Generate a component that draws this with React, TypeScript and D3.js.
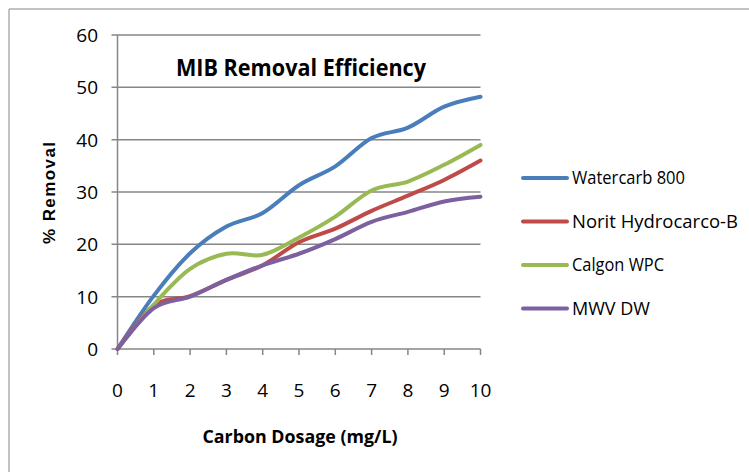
import * as d3 from "d3";
import { useEffect, useRef } from "react";

const dosage = [0, 1, 2, 3, 4, 5, 6, 7, 8, 9, 10];
const watercarb = [0, 10.2, 18.3, 23.4, 26, 31.3, 34.9, 40.3, 42.3, 46.3, 48.2];
const norit = [0, 8.3, 10.1, 13.2, 16, 20.4, 23, 26.4, 29.3, 32.3, 36];
const calgon = [0, 8.5, 15.3, 18.2, 18, 21.3, 25.3, 30.3, 32, 35.2, 39];
const mwv = [0, 7.8, 10, 13.2, 16, 18.2, 21, 24.3, 26.2, 28.2, 29.1];
const yTicks = [0, 10, 20, 30, 40, 50, 60];

const series = [
  { name: "Watercarb 800", values: watercarb, color: "#4a7ebb" },
  { name: "Norit Hydrocarco-B", values: norit, color: "#be4b48" },
  { name: "Calgon WPC", values: calgon, color: "#98b954" },
  { name: "MWV DW", values: mwv, color: "#7d60a0" },
];

const FONT = "'Open Sans', 'Liberation Sans', sans-serif";

export default function App() {
  const ref = useRef<SVGSVGElement>(null);

  useEffect(() => {
    if (!ref.current) return;
    const svg = d3.select(ref.current);
    svg.selectAll("*").remove();

    const width = 749;
    const height = 472;
    const left = 117.5;
    const right = 480.5;
    const top = 35;
    const bottom = 349;
    const grey = "#868686";

    svg.append("rect").attr("width", width).attr("height", height).attr("fill", "#fff");

    // outer frame
    svg
      .append("path")
      .attr("d", `M9,${height} V9 H${width}`)
      .attr("fill", "none")
      .attr("stroke", grey)
      .attr("stroke-width", 1);

    const x = d3.scaleLinear().domain([0, 10]).range([left, right]);
    const y = d3.scaleLinear().domain([0, 60]).range([bottom, top]);

    // gridlines
    svg
      .append("g")
      .selectAll("line")
      .data(yTicks)
      .join("line")
      .attr("x1", left - 6)
      .attr("x2", right)
      .attr("y1", (d) => y(d))
      .attr("y2", (d) => y(d))
      .attr("stroke", grey)
      .attr("stroke-width", 1.5);

    // y axis line
    svg
      .append("line")
      .attr("x1", left)
      .attr("x2", left)
      .attr("y1", top)
      .attr("y2", bottom)
      .attr("stroke", grey)
      .attr("stroke-width", 1.5);

    // x ticks
    svg
      .append("g")
      .selectAll("line")
      .data(dosage)
      .join("line")
      .attr("x1", (d) => x(d))
      .attr("x2", (d) => x(d))
      .attr("y1", bottom)
      .attr("y2", bottom + 6)
      .attr("stroke", grey)
      .attr("stroke-width", 1.5);

    // y tick labels
    svg
      .append("g")
      .selectAll("text")
      .data(yTicks)
      .join("text")
      .attr("x", 98)
      .attr("y", (d) => y(d))
      .attr("dy", "0.36em")
      .attr("text-anchor", "end")
      .attr("font-family", FONT)
      .attr("font-size", 19)
      .text((d) => d);

    // x tick labels
    svg
      .append("g")
      .selectAll("text")
      .data(dosage)
      .join("text")
      .attr("x", (d) => x(d))
      .attr("y", 390)
      .attr("dy", "0.36em")
      .attr("text-anchor", "middle")
      .attr("font-family", FONT)
      .attr("font-size", 19)
      .text((d) => d);

    const line = d3
      .line<number>()
      .x((_, i) => x(dosage[i]))
      .y((d) => y(d))
      .curve(d3.curveCardinal.tension(0));

    svg
      .append("g")
      .selectAll("path")
      .data(series)
      .join("path")
      .attr("d", (d) => line(d.values))
      .attr("fill", "none")
      .attr("stroke", (d) => d.color)
      .attr("stroke-width", 4)
      .attr("stroke-linecap", "round")
      .attr("stroke-linejoin", "round");

    // title
    svg
      .append("text")
      .attr("x", 301)
      .attr("y", 68)
      .attr("dy", "0.36em")
      .attr("text-anchor", "middle")
      .attr("font-family", FONT)
      .attr("font-weight", "bold")
      .attr("font-size", 23)
      .attr("textLength", 250)
      .attr("lengthAdjust", "spacingAndGlyphs")
      .text("MIB Removal Efficiency");

    // axis titles
    svg
      .append("text")
      .attr("transform", "translate(49,193) rotate(-90)")
      .attr("dy", "0.36em")
      .attr("text-anchor", "middle")
      .attr("font-family", "'Liberation Sans', Arial, sans-serif")
      .attr("font-weight", "bold")
      .attr("font-size", 17)
      .attr("textLength", 102)
      .attr("lengthAdjust", "spacing")
      .text("% Removal");

    svg
      .append("text")
      .attr("x", 300)
      .attr("y", 437)
      .attr("dy", "0.36em")
      .attr("text-anchor", "middle")
      .attr("font-family", FONT)
      .attr("font-weight", "bold")
      .attr("font-size", 17)
      .attr("textLength", 195)
      .attr("lengthAdjust", "spacingAndGlyphs")
      .text("Carbon Dosage  (mg/L)");

    // legend
    const legend = svg
      .append("g")
      .selectAll("g")
      .data(series)
      .join("g")
      .attr("transform", (_, i) => `translate(523,${178 + i * 43.5})`);

    legend
      .append("line")
      .attr("x1", 0)
      .attr("x2", 44)
      .attr("stroke", (d) => d.color)
      .attr("stroke-width", 4)
      .attr("stroke-linecap", "round");

    const legendWidths = [113, 166, 92, 78];
    legend
      .append("text")
      .attr("x", 49)
      .attr("dy", "0.36em")
      .attr("font-family", FONT)
      .attr("font-size", 18)
      .attr("textLength", (_, i) => legendWidths[i])
      .attr("lengthAdjust", "spacingAndGlyphs")
      .text((d) => d.name);
  }, []);

  return (
    <svg
      ref={ref}
      width={749}
      height={472}
      style={{ position: "absolute", left: 0, top: 0, display: "block" }}
    />
  );
}
